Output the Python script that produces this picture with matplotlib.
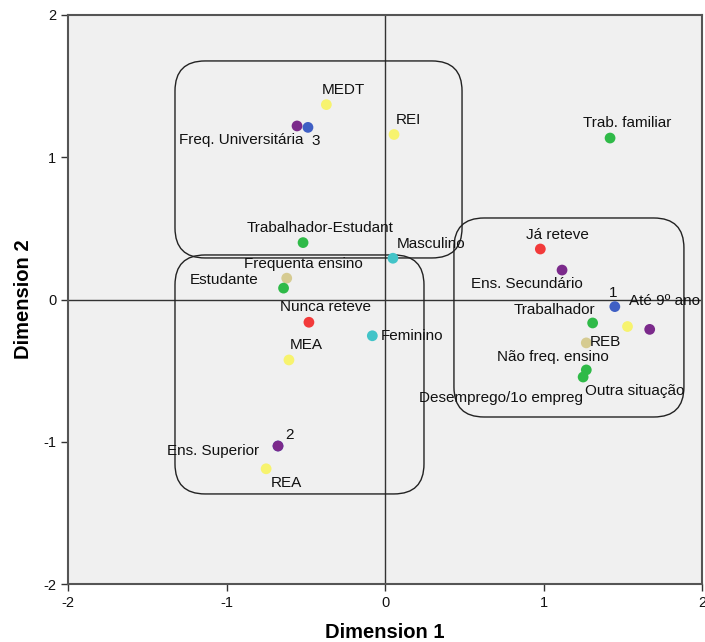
import matplotlib
matplotlib.use("Agg")
import matplotlib.pyplot as plt
from matplotlib.patches import FancyBboxPatch

plt.rcParams['font.family'] = ['Liberation Sans', 'DejaVu Sans']

# ---- data ----
labels = ["3", "MEDT", "Freq. Universitária", "REI", "Trab. familiar",
          "Trabalhador-Estudant", "Masculino", "Já reteve", "Ens. Secundário",
          "Frequenta ensino", "Estudante", "1", "REB", "Até 9º ano", "Trabalhador",
          "Não freq. ensino", "Nunca reteve", "Feminino", "MEA", "Outra situação",
          "Desemprego/1o empreg", "2", "Ens. Superior", "REA"]
dim1 = [-0.486, -0.37, -0.555, 0.057, 1.42,
        -0.517, 0.05, 0.98, 1.117,
        -0.62, -0.64, 1.45, 1.53, 1.67, 1.31,
        1.27, -0.48, -0.08, -0.606, 1.27,
        1.25, -0.675, -0.675, -0.75]
dim2 = [1.21, 1.37, 1.22, 1.16, 1.135,
        0.40, 0.29, 0.355, 0.207,
        0.15, 0.08, -0.05, -0.19, -0.21, -0.165,
        -0.305, -0.16, -0.255, -0.425, -0.495,
        -0.545, -1.03, -1.03, -1.19]
groups = ["cluster", "parents", "education", "parents", "situation",
          "situation", "sex", "retention", "education",
          "attend", "situation", "cluster", "parents", "education", "situation",
          "attend", "retention", "sex", "parents", "situation",
          "situation", "cluster", "education", "parents"]

# group boxes: (x0, y0, x1, y1)
boxes = [(-1.325, 0.292, 0.486, 1.677),
         (-1.325, -1.367, 0.246, 0.313),
         (0.435, -0.826, 1.886, 0.573)]

ticks = [-2, -1, 0, 1, 2]

# ---- styles ----
colors = {"cluster": "#3f5fc4", "parents": "#f7f36e", "education": "#7b2a8b",
          "situation": "#2fba48", "sex": "#42c4c8", "retention": "#f23a3a",
          "attend": "#d6cb91"}
# label offsets in pixels (dx, dy, ha)
offsets = {
    "3": (8, -14, "center"), "MEDT": (17, 15, "center"),
    "Freq. Universitária": (6, -14, "right"), "REI": (14, 14, "center"),
    "Trab. familiar": (17, 15, "center"), "Trabalhador-Estudant": (17, 15, "center"),
    "Masculino": (4, 14, "left"), "Já reteve": (17, 14, "center"),
    "Ens. Secundário": (-35, -14, "center"), "Frequenta ensino": (17, 14, "center"),
    "Estudante": (-25, 8, "right"), "1": (-2, 14, "center"),
    "REB": (-22, -15, "center"), "Até 9º ano": (-21, 28, "left"),
    "Trabalhador": (-38, 13, "center"), "Não freq. ensino": (-33, -14, "center"),
    "Nunca reteve": (17, 15, "center"), "Feminino": (8, 0, "left"),
    "MEA": (17, 15, "center"), "Outra situação": (-1, -21, "left"),
    "Desemprego/1o empreg": (0, -21, "right"), "2": (11, 11, "center"),
    "Ens. Superior": (-19, -5, "right"), "REA": (20, -14, "center"),
}

fig = plt.figure(figsize=(7.05, 6.42), dpi=100)
ax = fig.add_axes([68/705, 1 - 584/642, 634/705, 569/642])
ax.set_facecolor("#f0f0f0")
ax.set_xlim(-2, 2)
ax.set_ylim(-2, 2)
ax.axhline(0, color="#333333", lw=1.0, zorder=1)
ax.axvline(0, color="#333333", lw=1.0, zorder=1)

for (x0, y0, x1, y1) in boxes:
    p = FancyBboxPatch((x0, y0), x1 - x0, y1 - y0,
                       boxstyle="round,pad=0,rounding_size=0.19",
                       mutation_aspect=1.11, fill=False, ec="#222222", lw=1.0, zorder=2)
    ax.add_patch(p)

for lab, x, y, g in zip(labels, dim1, dim2, groups):
    ax.scatter([x], [y], s=60, color=colors[g], edgecolors="none", zorder=4)
    dx, dy, ha = offsets[lab]
    ax.annotate(lab, (x, y), xytext=(dx * 0.72, dy * 0.72), textcoords="offset points",
                ha=ha, va="center", fontsize=11, color="#111111", zorder=5,
                annotation_clip=False)

ax.set_xticks(ticks)
ax.set_yticks(ticks)
ax.set_xticklabels([str(t) for t in ticks])
ax.set_yticklabels([str(t) for t in ticks])
ax.tick_params(direction="out", length=5, width=1, labelsize=10.5, colors="#333333",
               labelcolor="#111111")
for s in ax.spines.values():
    s.set_color("#555555")
    s.set_linewidth(1.5)
ax.set_xlabel("Dimension 1", fontsize=14.5, fontweight="bold", labelpad=9.5)
ax.set_ylabel("Dimension 2", fontsize=14.5, fontweight="bold", labelpad=7)

fig.savefig("out.png", dpi=100)
